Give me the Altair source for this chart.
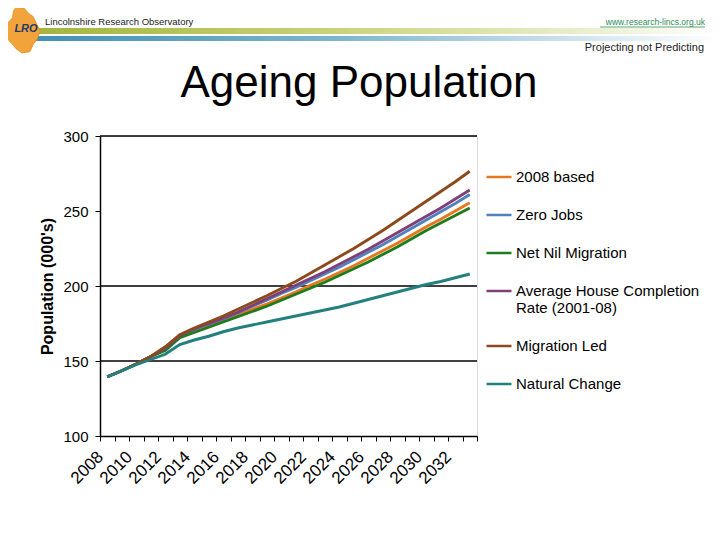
import altair as alt
import pandas as pd

years = list(range(2008, 2034))

series_names = [
    "2008 based",
    "Zero Jobs",
    "Net Nil Migration",
    "Average House Completion Rate (2001-08)",
    "Migration Led",
    "Natural Change",
]
series_colors = ["#E8761E", "#4F81BD", "#1E7B1E", "#7F3F78", "#8B4A1C", "#23807F"]

based_2008 = [139.5, 143.5, 148, 153, 157.5, 166, 170, 173.5, 177, 180.5, 184.5, 188, 192,
              196, 200.5, 204.5, 209, 213.5, 218.5, 223.5, 228.5, 234, 239.5, 244.5, 250, 255.5]
zero_jobs = [139.5, 143.5, 148, 153, 158, 166.5, 171, 174.5, 178, 182, 186.5, 190.5, 195,
             199, 203.5, 208, 212.5, 217.5, 222.5, 227.5, 233, 238.5, 244, 249.5, 255, 261]
net_nil = [139.5, 143.5, 148, 153, 157, 165.5, 169, 172.5, 176, 179.5, 183, 186.5, 190.5,
           194.5, 198.5, 202.5, 207, 211.5, 216, 221, 226, 231.5, 237, 242, 247, 252]
avg_house = [139.5, 143.5, 148, 153, 158.5, 167, 171.5, 175, 178.5, 182.5, 187, 191.5, 196,
             200.5, 205, 209.5, 214.5, 219.5, 224.5, 230, 235.5, 241, 246.5, 252, 258, 264]
migration_led = [139.5, 143.5, 148, 153, 159.5, 167.5, 172, 176, 180, 184.5, 189, 193.5, 198.3,
                 203, 208.5, 214, 219.5, 225, 231, 237, 243.5, 250, 256.5, 263, 269.5, 276.5]
natural_change = [139.5, 143.5, 147.5, 151, 154.5, 161, 164, 166.5, 169.5, 172, 174, 176, 178,
                  180, 182, 184, 186, 188.5, 191, 193.5, 196, 198.5, 201, 203, 205.5, 208]

y_ticks = [100, 150, 200, 250, 300]
grid_values = [150, 200, 300]

all_values = [based_2008, zero_jobs, net_nil, avg_house, migration_led, natural_change]
rows = []
for name, vals in zip(series_names, all_values):
    for yr, v in zip(years, vals):
        rows.append({"year": yr, "series": name, "value": v})
df = pd.DataFrame(rows)

FONT = "Liberation Sans"
W, H = 377, 300

lines = alt.Chart(df).mark_line(strokeWidth=2.9).encode(
    x=alt.X("year:O", bandPosition=0.5,
            scale=alt.Scale(type="band", paddingInner=0, paddingOuter=0),
            axis=alt.Axis(title=None, labelAngle=315, labelAlign="right", labelBaseline="middle",
                          labelFontSize=17, labelFont=FONT, labelColor="black",
                          labelExpr="datum.value % 2 == 0 ? datum.label : ''",
                          labelOverlap=False, labelPadding=13, labelOffset=-7,
                          tickBand="extent", tickSize=5, tickColor="black",
                          domainColor="black", domainWidth=1.5, grid=False)),
    y=alt.Y("value:Q", scale=alt.Scale(domain=[100, 300], nice=False, zero=False),
            axis=alt.Axis(values=y_ticks, title="Population (000's)", titleFont=FONT,
                          titleFontSize=16, titleFontWeight="bold", titleColor="black",
                          titlePadding=7, labelFont=FONT, labelFontSize=15, labelColor="black",
                          tickSize=5, labelPadding=7, tickColor="black", domainColor="black",
                          domainWidth=1.5, grid=False)),
    color=alt.Color("series:N", sort=series_names,
                    scale=alt.Scale(domain=series_names, range=series_colors),
                    legend=alt.Legend(orient="none", legendX=385, legendY=27, title=None,
                                      symbolType="stroke", symbolSize=625, symbolStrokeWidth=2.5,
                                      labelFont=FONT, labelFontSize=15, labelColor="black",
                                      labelLimit=400, rowPadding=16, padding=0, labelOffset=3,
                                      labelExpr="datum.label == 'Average House Completion Rate (2001-08)' ? ['Average House Completion', 'Rate (2001-08)'] : datum.label")),
    order=alt.Order("series:N"),
)

grid = alt.Chart(pd.DataFrame({"g": grid_values})).mark_rule(color="black", strokeWidth=1.6).encode(
    y="g:Q"
)


def one(text):
    return alt.Chart(pd.DataFrame({"t": [text]}))


title = one("Ageing Population").mark_text(font=FONT, fontSize=44, color="black",
                                           align="center", baseline="alphabetic").encode(
    text="t:N", x=alt.value(259), y=alt.value(-39))

green_bar = one("").mark_rect(color=alt.Gradient(
    gradient="linear",
    stops=[alt.GradientStop(color="#A2B43A", offset=0),
           alt.GradientStop(color="#C8D47C", offset=0.45),
           alt.GradientStop(color="#EEF2D8", offset=0.85),
           alt.GradientStop(color="#FFFFFF", offset=1)],
    x1=0, x2=1, y1=0, y2=0)).encode(
    x=alt.value(-68), x2=alt.value(620), y=alt.value(-108), y2=alt.value(-102))

blue_bar = one("").mark_rect(color=alt.Gradient(
    gradient="linear",
    stops=[alt.GradientStop(color="#3F8FB2", offset=0),
           alt.GradientStop(color="#7DB5CC", offset=0.45),
           alt.GradientStop(color="#DCEBF1", offset=0.85),
           alt.GradientStop(color="#FFFFFF", offset=1)],
    x1=0, x2=1, y1=0, y2=0)).encode(
    x=alt.value(-80), x2=alt.value(620), y=alt.value(-100), y2=alt.value(-95))

logo_path = ("M-0.3,-1 L0.05,-0.95 L0.25,-0.72 L0.45,-0.58 L0.6,-0.25 L0.75,0.05 L0.62,0.4 "
             "L0.45,0.62 L0.3,0.95 L-0.05,1 L-0.3,0.82 L-0.5,0.58 L-0.72,0.35 L-0.75,0 "
             "L-0.62,-0.35 L-0.45,-0.55 L-0.42,-0.82 Z")
logo = one("").mark_point(shape=logo_path, filled=True, fill="#F2A33A", stroke="#E08A20",
                          strokeWidth=0.8, opacity=1, size=2100).encode(
    x=alt.value(-77), y=alt.value(-106))

logo_text = one("LRO").mark_text(font=FONT, fontSize=11, fontStyle="italic", fontWeight="bold",
                                 color="#1F3A6E", align="center", baseline="middle").encode(
    text="t:N", x=alt.value(-74), y=alt.value(-107))

org = one("Lincolnshire Research Observatory").mark_text(
    font=FONT, fontSize=9.5, color="#222222", align="left", baseline="middle").encode(
    text="t:N", x=alt.value(-55), y=alt.value(-114))

url = one("www.research-lincs.org.uk").mark_text(
    font=FONT, fontSize=8.5, color="#2E8B57", align="right", baseline="middle").encode(
    text="t:N", x=alt.value(605), y=alt.value(-114))

url_line = one("").mark_rule(color="#2E8B57", strokeWidth=0.8).encode(
    x=alt.value(500), x2=alt.value(605), y=alt.value(-109))

tagline = one("Projecting not Predicting").mark_text(
    font=FONT, fontSize=11, color="#222222", align="right", baseline="middle").encode(
    text="t:N", x=alt.value(604), y=alt.value(-88))

chart = alt.layer(
    green_bar, blue_bar, logo, logo_text, org, url, url_line, tagline, title, grid, lines
).properties(
    width=W, height=H,
    autosize=alt.AutoSizeParams(type="none"),
    padding={"left": 92, "top": 128, "right": 235, "bottom": 96},
).configure_view(strokeWidth=0).configure(background="white")

chart.save("out.html", embed_options={"renderer": "svg", "actions": False})
